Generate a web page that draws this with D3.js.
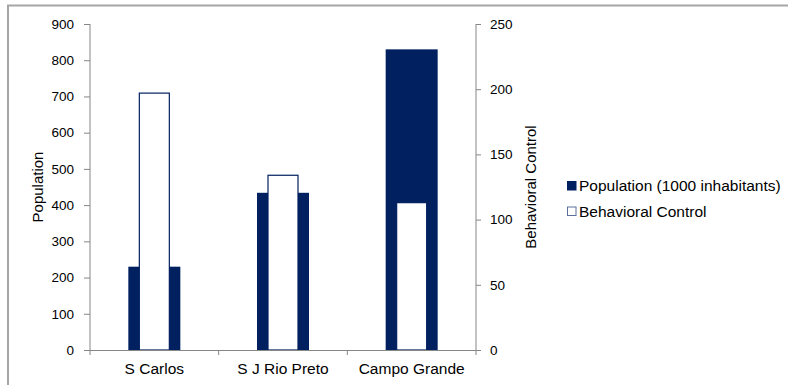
<!DOCTYPE html>
<html><head><meta charset="utf-8">
<script src="https://cdn.jsdelivr.net/npm/d3@7"></script>
<style>body{margin:0;background:#fff;} text{font-family:"Liberation Sans",Arial,sans-serif;fill:#000;}</style>
</head><body><svg id="c" width="788" height="385"></svg>
<script>
const categories = ["S Carlos", "S J Rio Preto", "Campo Grande"];
const population = [230, 434, 830];
const behavioral = [197, 134, 113];
const popTicks = [0,100,200,300,400,500,600,700,800,900];
const behTicks = [0,50,100,150,200,250];
const seriesNames = ["Population (1000 inhabitants)", "Behavioral Control"];

const svg = d3.select("#c");
const navy = "#002060", axisCol = "#868686";
const m = {l:90, r:476, t:24, b:350};

// frame
svg.append("path").attr("d","M8,385 L8,5.5 L788,5.5").attr("fill","none").attr("stroke","#a6a6a6").attr("stroke-width",2);

const x = d3.scaleBand().domain(categories).range([m.l, m.r]);
const yL = d3.scaleLinear().domain([0,900]).range([m.b, m.t]);
const yR = d3.scaleLinear().domain([0,250]).range([m.b, m.t]);

const popW = 52, behW = 30;
svg.selectAll("rect.pop").data(categories).enter().append("rect")
  .attr("x", d => x(d) + x.bandwidth()/2 - popW/2)
  .attr("width", popW)
  .attr("y", (d,i) => yL(population[i]))
  .attr("height", (d,i) => m.b - yL(population[i]))
  .attr("fill", navy);
svg.selectAll("rect.beh").data(categories).enter().append("rect")
  .attr("x", d => x(d) + x.bandwidth()/2 - behW/2)
  .attr("width", behW)
  .attr("y", (d,i) => yR(behavioral[i]))
  .attr("height", (d,i) => m.b - yR(behavioral[i]))
  .attr("fill", "#fff").attr("stroke", navy).attr("stroke-width", 1.2);

function styleAxis(g){
  g.selectAll("path,line").attr("stroke", axisCol);
  g.selectAll("text").style("font-size","13.5px").attr("fill","#000");
}
const gl = svg.append("g").attr("transform",`translate(${m.l},0)`)
  .call(d3.axisLeft(yL).tickValues(popTicks).tickSizeOuter(0).tickSize(6).tickPadding(10));
styleAxis(gl);
const gr = svg.append("g").attr("transform",`translate(${m.r},0)`)
  .call(d3.axisRight(yR).tickValues(behTicks).tickSizeOuter(0).tickSize(5).tickPadding(9));
styleAxis(gr);
gl.select(".domain").attr("d",`M0,${m.t}V${m.b}`);
gr.select(".domain").attr("d",`M0,${m.t}V${m.b}`);

// bottom axis
const gb = svg.append("g");
gb.append("line").attr("x1",m.l).attr("x2",m.r).attr("y1",m.b+0.5).attr("y2",m.b+0.5).attr("stroke",axisCol);
const bounds = categories.map(c => x(c)).concat([m.r]);
gb.selectAll("line.t").data(bounds).enter().append("line")
  .attr("x1",d=>d).attr("x2",d=>d).attr("y1",m.b).attr("y2",m.b+5).attr("stroke",axisCol);
gb.selectAll("text").data(categories).enter().append("text")
  .attr("x", d => x(d)+x.bandwidth()/2).attr("y", 374)
  .attr("text-anchor","middle").style("font-size","15.5px").text(d=>d);

// axis titles
svg.append("text").attr("transform",`translate(43,${(m.t+m.b)/2}) rotate(-90)`)
  .attr("text-anchor","middle").style("font-size","15px").text("Population");
svg.append("text").attr("transform",`translate(536,${(m.t+m.b)/2}) rotate(-90)`)
  .attr("text-anchor","middle").style("font-size","15px").text("Behavioral Control");

// legend
const lg = svg.append("g");
seriesNames.forEach((n,i) => {
  const yy = 186 + i*25.5;
  lg.append("rect").attr("x",567.5).attr("y",yy-4.5).attr("width",8.5).attr("height",8.5)
    .attr("fill", i===0 ? navy : "#fff").attr("stroke", i===0 ? navy : "#5a6f9a");
  lg.append("text").attr("x",579).attr("y",yy+5).style("font-size","15.5px").text(n);
});
</script></body></html>
